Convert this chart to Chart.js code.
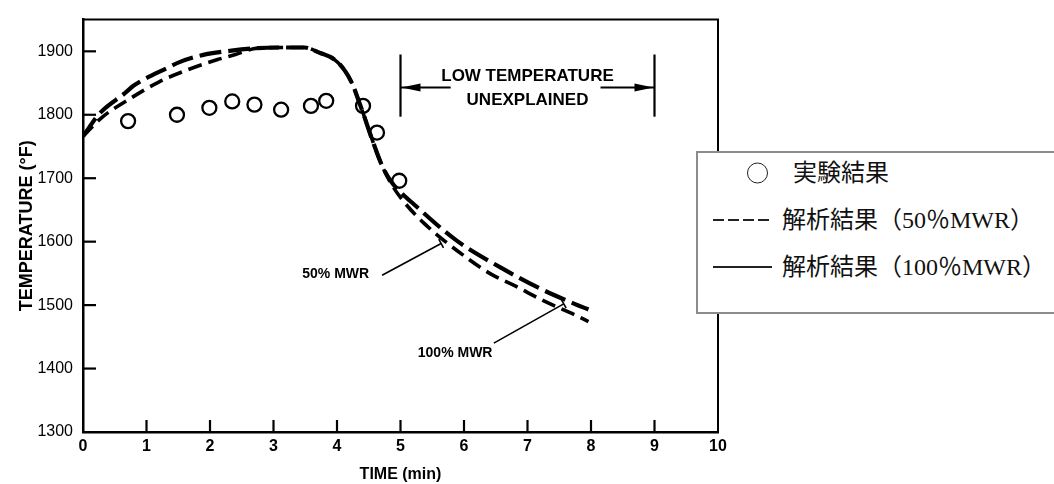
<!DOCTYPE html>
<html>
<head>
<meta charset="utf-8">
<script src="https://cdn.jsdelivr.net/npm/chart.js@4.4.0/dist/chart.umd.min.js"></script>
<style>
html,body{margin:0;padding:0;background:#fff;}
#wrap{position:relative;width:1054px;height:484px;overflow:hidden;background:#fff;}
#chart{position:absolute;left:0;top:0;}
#legend{position:absolute;left:696px;top:151px;width:420px;height:163px;border:2px solid #8c8c8c;background:#fff;box-sizing:border-box;font-family:"Liberation Serif","Noto Sans CJK JP",serif;font-size:24px;color:#111;}
.row{position:absolute;white-space:nowrap;line-height:1;transform:translateY(-50%);}
.txt{font-family:"Liberation Serif","Noto Sans CJK JP",serif;}
.circ{position:absolute;width:19px;height:19px;border:1.6px solid #222;border-radius:50%;transform:translateY(-50%);}
.dash{position:absolute;width:56px;height:2px;transform:translateY(-50%);background:repeating-linear-gradient(90deg,#222 0 11px,transparent 11px 15px);}
.solid{position:absolute;width:59px;height:2px;transform:translateY(-50%);background:#222;}
</style>
</head>
<body>
<div id="wrap">
  <canvas id="chart" width="1054" height="484"></canvas>
  <div id="legend">
    <div class="circ" style="left:49px;top:20px;"></div>
    <span class="row txt" style="left:95px;top:20px;">実験結果</span>
    <div class="dash" style="left:15px;top:67px;"></div>
    <span class="row txt" style="left:84px;top:67px;">解析結果（50％MWR）</span>
    <div class="solid" style="left:15px;top:114px;"></div>
    <span class="row txt" style="left:84px;top:114px;">解析結果（100％MWR）</span>
  </div>
</div>
<script>
// ---- data ----
const timeExp = [0.71, 1.48, 1.99, 2.35, 2.70, 3.12, 3.59, 3.83, 4.41, 4.63, 4.98];
const tempExp = [1790, 1800, 1811, 1821, 1816, 1808, 1814, 1822, 1814, 1772, 1696];

const time100 = [0, 0.27, 0.66, 0.80, 1.33, 1.52, 1.88, 2.34, 2.75, 3.14, 3.49, 3.72, 3.96, 4.12, 4.24, 4.32, 4.42, 4.55, 4.70, 4.85, 4.98, 5.21, 5.88, 6.58, 7.20, 7.74, 7.96];
const temp100 = [1766, 1803, 1834, 1846, 1874, 1883, 1894, 1901, 1905, 1906, 1906, 1898, 1887, 1870, 1849, 1828, 1800, 1762, 1722, 1695, 1680, 1659, 1602, 1559, 1526, 1502, 1493];

const time50 = [0, 0.30, 0.75, 1.20, 1.65, 2.12, 2.40, 2.75, 3.14, 3.49, 3.72, 3.96, 4.12, 4.24, 4.32, 4.42, 4.55, 4.70, 4.85, 5.02, 5.36, 6.05, 6.44, 6.79, 7.25, 7.78, 7.96];
const temp50 = [1766, 1796, 1826, 1852, 1871, 1887, 1895, 1905, 1906, 1906, 1898, 1887, 1870, 1849, 1828, 1800, 1762, 1722, 1692, 1667, 1630, 1574, 1548, 1531, 1507, 1483, 1474];

const xTickValues = [0, 1, 2, 3, 4, 5, 6, 7, 8, 9, 10];
const yTickValues = [1300, 1400, 1500, 1600, 1700, 1800, 1900];

// ---- annotations (data units) ----
const bracketTimes = [5, 9];
const bracketTemps = [1797, 1895];
const arrowTemp = 1843;
const arrowTailTimes = [5.79, 8.15];
const noteLines = ['LOW TEMPERATURE', 'UNEXPLAINED'];
const noteTime = 7.0;
const noteTemps = [1861, 1822];
const curveLabels = ['50% MWR', '100% MWR'];
const curveLabelTimes = [3.98, 5.86];
const curveLabelTemps = [1549, 1424];
const leaderFrom = [[4.71, 1547], [6.47, 1440]];
const leaderTo = [[5.64, 1597], [7.57, 1502]];

const toXY = (xs, ys) => xs.map((x, i) => ({x: x, y: ys[i]}));

const decor = {
  id: 'decor',
  afterDraw(chart) {
    const {ctx, chartArea: a, scales: {x, y}} = chart;
    const X = v => x.getPixelForValue(v);
    const Y = v => y.getPixelForValue(v);
    const line = (x1, y1, x2, y2) => { ctx.beginPath(); ctx.moveTo(x1, y1); ctx.lineTo(x2, y2); ctx.stroke(); };
    ctx.save();
    ctx.strokeStyle = '#000';
    ctx.fillStyle = '#000';
    ctx.lineCap = 'butt';
    // frame top & right
    ctx.lineWidth = 2;
    ctx.beginPath();
    ctx.moveTo(a.left, a.top); ctx.lineTo(a.right, a.top); ctx.lineTo(a.right, a.bottom);
    ctx.stroke();
    // inward ticks
    ctx.lineWidth = 2.2;
    yTickValues.forEach(v => { if (v === y.min) return; const py = Y(v); line(a.left, py, a.left + 13, py); });
    xTickValues.forEach(v => { if (v === x.min || v === x.max) return; const px = X(v); line(px, a.bottom, px, a.bottom - 12); });
    // bracket
    ctx.lineWidth = 2.2;
    bracketTimes.forEach(t => line(X(t), Y(bracketTemps[0]), X(t), Y(bracketTemps[1])));
    const ay = Y(arrowTemp);
    const arrow = (tip, tail) => {
      const dir = Math.sign(tail - tip);
      ctx.lineWidth = 2;
      line(tip, ay, tail, ay);
      ctx.beginPath();
      ctx.moveTo(tip + dir * 1, ay);
      ctx.lineTo(tip + dir * 20, ay - 4);
      ctx.lineTo(tip + dir * 20, ay + 4);
      ctx.closePath();
      ctx.fill();
    };
    arrow(X(bracketTimes[0]), X(arrowTailTimes[0]));
    arrow(X(bracketTimes[1]), X(arrowTailTimes[1]));
    ctx.font = 'bold 17px "Liberation Sans", Arial, sans-serif';
    ctx.textAlign = 'center';
    ctx.textBaseline = 'middle';
    noteLines.forEach((s, i) => ctx.fillText(s, X(noteTime), Y(noteTemps[i])));
    // curve labels + leaders
    ctx.font = 'bold 14px "Liberation Sans", Arial, sans-serif';
    curveLabels.forEach((s, i) => ctx.fillText(s, X(curveLabelTimes[i]), Y(curveLabelTemps[i])));
    ctx.lineWidth = 1.6;
    leaderFrom.forEach((p, i) => {
      const x1 = X(p[0]), y1 = Y(p[1]), x2 = X(leaderTo[i][0]), y2 = Y(leaderTo[i][1]);
      line(x1, y1, x2, y2);
      const dx = x2 - x1, dy = y2 - y1, L = Math.hypot(dx, dy);
      const nx = -dy / L * 5, ny = dx / L * 5;
      line(x2 - nx, y2 - ny, x2 + nx, y2 + ny);
    });
    ctx.restore();
  }
};

new Chart(document.getElementById('chart'), {
  type: 'scatter',
  data: {
    datasets: [
      {
        label: '実験結果',
        data: toXY(timeExp, tempExp),
        showLine: false,
        pointStyle: 'circle',
        pointRadius: 7,
        pointBorderWidth: 2.3,
        pointBorderColor: '#000',
        pointBackgroundColor: 'rgba(255,255,255,0)',
        order: 0
      },
      {
        label: '解析結果（50％MWR）',
        data: toXY(time50, temp50),
        showLine: true,
        borderColor: '#000',
        borderWidth: 3.6,
        borderDash: [14, 7],
        pointRadius: 0,
        cubicInterpolationMode: 'monotone',
        fill: false,
        order: 1
      },
      {
        label: '解析結果（100％MWR）',
        data: toXY(time100, temp100),
        showLine: true,
        borderColor: '#000',
        borderWidth: 4.2,
        borderDash: [22, 7],
        pointRadius: 0,
        cubicInterpolationMode: 'monotone',
        fill: false,
        order: 2
      }
    ]
  },
  options: {
    responsive: false,
    animation: false,
    devicePixelRatio: 1,
    layout: {padding: {top: 15, right: 336, bottom: 0, left: 0}},
    plugins: {legend: {display: false}, tooltip: {enabled: false}},
    scales: {
      x: {
        type: 'linear', min: 0, max: 10,
        afterBuildTicks: s => { s.ticks = xTickValues.map(v => ({value: v})); },
        afterFit: s => { s.height = 52; },
        grid: {display: false, drawTicks: false},
        border: {display: true, color: '#000', width: 2.5},
        ticks: {padding: 5, color: '#000', autoSkip: false, maxRotation: 0,
          callback: v => String(v),
          font: {family: '"Liberation Sans", Arial, sans-serif', size: 16, weight: 'bold'}},
        title: {display: true, text: 'TIME (min)', color: '#000',
          font: {family: '"Liberation Sans", Arial, sans-serif', size: 16, weight: 'bold'},
          padding: {top: 0, bottom: 0}}
      },
      y: {
        type: 'linear', min: 1300, max: 1950,
        afterBuildTicks: s => { s.ticks = yTickValues.map(v => ({value: v})); },
        afterFit: s => { s.width = 83; },
        grid: {display: false, drawTicks: false},
        border: {display: true, color: '#000', width: 2.5},
        ticks: {padding: 10, color: '#000',
          callback: v => String(v),
          font: {family: '"Liberation Sans", Arial, sans-serif', size: 16}},
        title: {display: true, text: 'TEMPERATURE (°F)', color: '#000',
          font: {family: '"Liberation Sans", Arial, sans-serif', size: 18, weight: 'bold'},
          padding: {top: 16, bottom: 0}}
      }
    }
  },
  plugins: [decor]
});
</script>
</body>
</html>
